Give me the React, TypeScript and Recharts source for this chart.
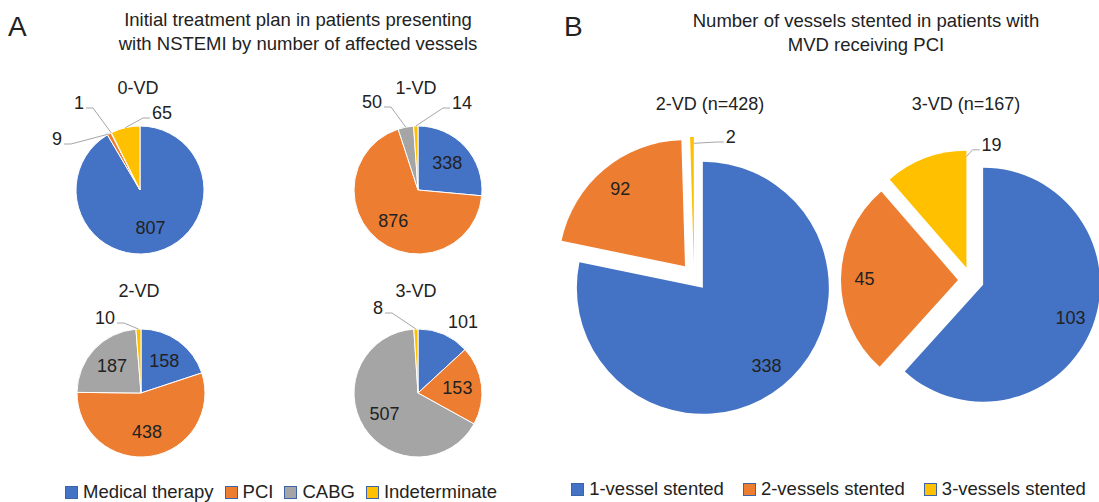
import React from 'react';
import { PieChart, Pie, Cell, Legend } from 'recharts';

const treatments = ['Medical therapy', 'PCI', 'CABG', 'Indeterminate'];
const treatmentColors = ['#4472C4', '#ED7D31', '#A5A5A5', '#FFC000'];

const vd0Values = [807, 9, 1, 65];
const vd1Values = [338, 876, 50, 14];
const vd2Values = [158, 438, 187, 10];
const vd3Values = [101, 153, 507, 8];

const stentGroups = ['1-vessel stented', '2-vessels stented', '3-vessels stented'];
const stentColors = ['#4472C4', '#ED7D31', '#FFC000'];
const mvd2Values = [338, 92, 2];
const mvd3Values = [103, 45, 19];

const FONT = '"Liberation Sans", Arial, Helvetica, sans-serif';
const TEXT = '#222222';
const LEADER = '#A6A6A6';
const LABEL_SIZE = 18;
const RAD = Math.PI / 180;

type Callout = { dx: number; dy: number; line?: boolean };

// panel A: four small pies, callouts for the thin slices
const smallPies = [
  { title: '0-VD', values: vd0Values, cx: 140, cy: 190, callouts: { 1: { dx: -83, dy: -51 }, 2: { dx: -61, dy: -87 }, 3: { dx: 22, dy: -77 } } as Record<number, Callout> },
  { title: '1-VD', values: vd1Values, cx: 418, cy: 190, callouts: { 2: { dx: -46, dy: -88 }, 3: { dx: 44, dy: -87 } } as Record<number, Callout> },
  { title: '2-VD', values: vd2Values, cx: 141, cy: 393, callouts: { 3: { dx: -36, dy: -75 } } as Record<number, Callout> },
  { title: '3-VD', values: vd3Values, cx: 418, cy: 393, callouts: { 0: { dx: 45, dy: -71, line: false }, 3: { dx: -40, dy: -85 } } as Record<number, Callout> },
];
const SMALL_R = 64;

// panel B: exploded pies
const bigPies = [
  { title: '2-VD (n=428)', values: mvd2Values, cx: 144, cy: 277, r: 126, explode: 14, titleX: 160, callouts: { 2: { dx: 37, dy: -126 } } as Record<number, Callout> },
  { title: '3-VD (n=167)', values: mvd3Values, cx: 421, cy: 280, r: 117, explode: 13, titleX: 416, callouts: { 2: { dx: 25, dy: -123 } } as Record<number, Callout> },
];

const toData = (names: string[], values: number[]) => values.map((value, i) => ({ name: names[i], value }));

const pt = (cx: number, cy: number, r: number, a: number) => ({
  x: cx + r * Math.cos(-a * RAD),
  y: cy + r * Math.sin(-a * RAD),
});

function sliceLabel(callouts: Record<number, Callout>, insideRatio: number, edge: 'mid' | 'nearest', only?: number) {
  return (p: any) => {
    if (only !== undefined && p.index !== only) return null;
    const text = String(p.value);
    const c = callouts[p.index];
    const textProps = {
      textAnchor: 'middle' as const,
      dominantBaseline: 'central' as const,
      fill: TEXT,
      fontSize: LABEL_SIZE,
      fontFamily: FONT,
    };
    if (!c) {
      const q = pt(p.cx, p.cy, p.outerRadius * insideRatio, p.midAngle);
      return <text key={`l-${p.index}`} x={q.x} y={q.y} {...textProps}>{text}</text>;
    }
    const lx = p.cx + c.dx;
    const ly = p.cy + c.dy;
    let line = null;
    if (c.line !== false) {
      let a = p.midAngle;
      let r = p.outerRadius;
      if (edge === 'nearest') {
        const lo = Math.min(p.startAngle, p.endAngle);
        const hi = Math.max(p.startAngle, p.endAngle);
        const centre = (lo + hi) / 2;
        let la = Math.atan2(-c.dy, c.dx) / RAD;
        while (la - centre > 180) la -= 360;
        while (centre - la > 180) la += 360;
        a = Math.min(hi, Math.max(lo, la));
        r = p.outerRadius * 0.95;
      }
      const s = pt(p.cx, p.cy, r, a);
      const half = (text.length * 0.556 * LABEL_SIZE) / 2;
      const onLeft = lx < s.x;
      const ex = onLeft ? lx + half + 2 : lx - half - 2;
      const ey = ly + 5;
      const kx = onLeft ? ex + 7 : ex - 7;
      line = <polyline points={`${s.x},${s.y} ${kx},${ey} ${ex},${ey}`} fill="none" stroke={LEADER} strokeWidth={1} />;
    }
    return (
      <g key={`l-${p.index}`}>
        {line}
        <text x={lx} y={ly} {...textProps}>{text}</text>
      </g>
    );
  };
}

function explodedCentres(values: number[], cx: number, cy: number, d: number) {
  const total = values.reduce((s, v) => s + v, 0);
  let cum = 0;
  return values.map((v) => {
    const mid = 90 - (360 * (cum + v / 2)) / total;
    cum += v;
    return pt(cx, cy, d, mid);
  });
}

function legendContent(names: string[], colors: string[], gap: number, box: number) {
  return () => (
    <div style={{ display: 'flex', justifyContent: 'center', alignItems: 'center', fontFamily: FONT, fontSize: 18.5, color: TEXT, whiteSpace: 'nowrap' }}>
      {names.map((n, i) => (
        <span key={n} style={{ display: 'flex', alignItems: 'center', marginRight: i < names.length - 1 ? gap : 0 }}>
          <span style={{ width: box, height: box, background: colors[i], border: '1px solid #3E64A8', boxSizing: 'border-box', marginRight: 5 }} />
          {n}
        </span>
      ))}
    </div>
  );
}

const centred = (x: number, y: number, size: number): React.CSSProperties => ({
  position: 'absolute',
  left: x,
  top: y,
  transform: 'translate(-50%, -50%)',
  fontSize: size,
  whiteSpace: 'nowrap',
  textAlign: 'center',
  lineHeight: 1,
});

export default function App() {
  const noMargin = { top: 0, right: 0, bottom: 0, left: 0 };
  return (
    <div style={{ position: 'absolute', left: 0, top: 0, width: 1099, height: 502, background: '#fff', fontFamily: FONT, color: TEXT, overflow: 'hidden' }}>
      <div style={{ position: 'absolute', left: 0, top: 0 }}>
        <PieChart width={550} height={502} margin={noMargin}>
          {smallPies.map((sp) => (
            <Pie
              key={sp.title}
              data={toData(treatments, sp.values)}
              dataKey="value"
              nameKey="name"
              cx={sp.cx}
              cy={sp.cy}
              outerRadius={SMALL_R}
              startAngle={90}
              endAngle={-270}
              stroke="#fff"
              strokeWidth={1}
              label={sliceLabel(sp.callouts, 0.62, 'mid')}
              labelLine={false}
              isAnimationActive={false}
            >
              {sp.values.map((_, i) => (
                <Cell key={i} fill={treatmentColors[i]} />
              ))}
            </Pie>
          ))}
          <Legend
            verticalAlign="bottom"
            content={legendContent(treatments, treatmentColors, 11, 13)}
            wrapperStyle={{ left: 6, width: 550, top: 481, bottom: 'auto' }}
          />
        </PieChart>
      </div>

      <div style={{ position: 'absolute', left: 550, top: 0 }}>
        <PieChart width={549} height={502} margin={noMargin}>
          {bigPies.map((bp) => {
            const centres = explodedCentres(bp.values, bp.cx, bp.cy, bp.explode);
            return bp.values.map((_, k) => (
              <Pie
                key={`${bp.title}-${k}`}
                data={toData(stentGroups, bp.values)}
                dataKey="value"
                nameKey="name"
                cx={centres[k].x}
                cy={centres[k].y}
                outerRadius={bp.r}
                startAngle={90}
                endAngle={-270}
                stroke="none"
                label={sliceLabel(bp.callouts, 0.8, 'nearest', k)}
                labelLine={false}
                isAnimationActive={false}
              >
                {bp.values.map((__, i) => (
                  <Cell key={i} fill={i === k ? stentColors[i] : 'none'} stroke="none" />
                ))}
              </Pie>
            ));
          })}
          <Legend
            verticalAlign="bottom"
            content={legendContent(stentGroups, stentColors, 19, 13)}
            wrapperStyle={{ left: 4, width: 549, top: 478, bottom: 'auto' }}
          />
        </PieChart>
      </div>

      <div style={{ position: 'absolute', left: 8, top: 13, fontSize: 28, lineHeight: 1 }}>A</div>
      <div style={{ position: 'absolute', left: 564, top: 13, fontSize: 28, lineHeight: 1 }}>B</div>

      <div style={centred(298, 32, 18.5)}>
        <div style={{ lineHeight: '24px' }}>Initial treatment plan in patients presenting</div>
        <div style={{ lineHeight: '24px' }}>with NSTEMI by number of affected vessels</div>
      </div>
      <div style={centred(866, 33, 18.5)}>
        <div style={{ lineHeight: '24px' }}>Number of vessels stented in patients with</div>
        <div style={{ lineHeight: '24px' }}>MVD receiving PCI</div>
      </div>

      {smallPies.map((sp) => (
        <div key={sp.title} style={centred(sp.cx - 2, sp.cy - 102, 18)}>{sp.title}</div>
      ))}
      {bigPies.map((bp) => (
        <div key={bp.title} style={centred(550 + bp.titleX, 104, 18)}>{bp.title}</div>
      ))}
    </div>
  );
}
